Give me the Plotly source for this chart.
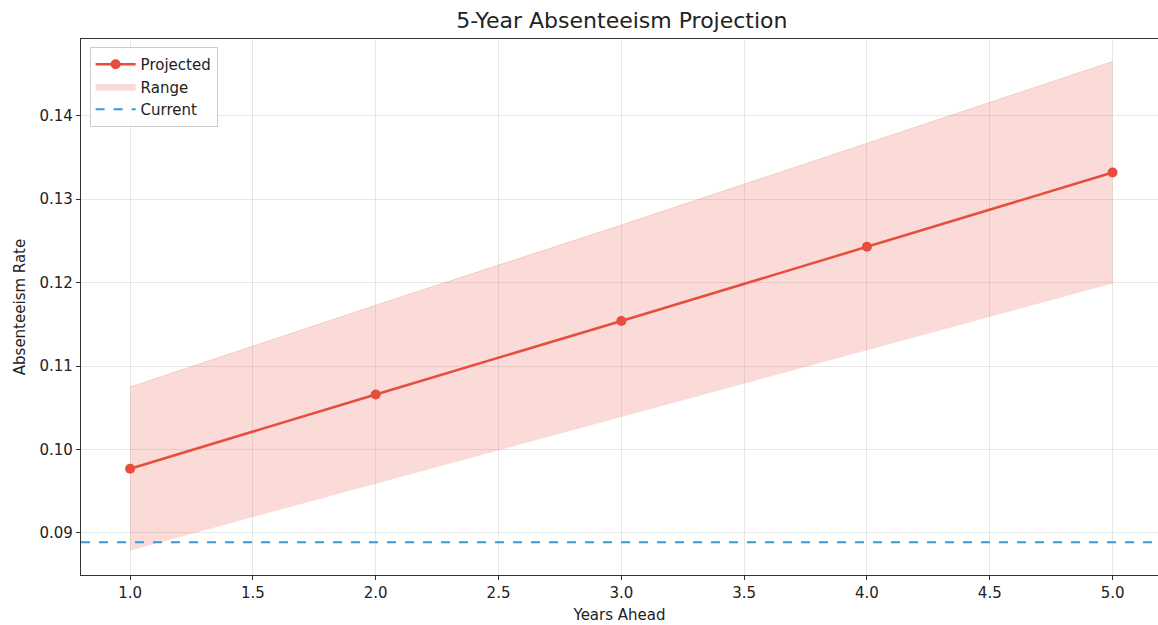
import plotly.graph_objects as go

years = [1, 2, 3, 4, 5]
projected = [0.0977, 0.1066, 0.1154, 0.1243, 0.1332]
upper = [0.1075, 0.1173, 0.1269, 0.1367, 0.1465]
lower = [0.0879, 0.0959, 0.1039, 0.1119, 0.1199]
current = 0.0889
x_ticks = [1.0, 1.5, 2.0, 2.5, 3.0, 3.5, 4.0, 4.5, 5.0]
y_ticks = [0.09, 0.10, 0.11, 0.12, 0.13, 0.14]

RED = "#e74c3c"
BLUE = "#3498db"
FONT = "DejaVu Sans"

fig = go.Figure()
fig.add_trace(go.Scatter(x=years, y=lower, mode="lines", line=dict(width=0),
                         showlegend=False, hoverinfo="skip"))
fig.add_trace(go.Scatter(x=years, y=upper, mode="lines", fill="tonexty",
                         fillcolor="rgba(231,76,60,0.2)",
                         line=dict(width=1, color="rgba(231,76,60,0.2)"),
                         name="Range", legendrank=2))
fig.add_trace(go.Scatter(x=years, y=projected, mode="lines+markers",
                         line=dict(color=RED, width=2.5),
                         marker=dict(size=10, color=RED),
                         name="Projected", legendrank=1))
fig.add_trace(go.Scatter(x=[0.8, 5.2], y=[current, current], mode="lines",
                         line=dict(color=BLUE, width=2, dash="dash"),
                         name="Current", legendrank=3))

axis_common = dict(showline=True, linecolor="#333", linewidth=1.2, mirror=True,
                   ticks="outside", ticklen=4, tickcolor="#333",
                   showgrid=True, gridcolor="rgba(0,0,0,0.09)", gridwidth=1,
                   zeroline=False, tickfont=dict(size=15, color="#222", family=FONT))

fig.update_xaxes(range=[0.8, 5.185], tickvals=x_ticks,
                 ticktext=[f"{v:.1f}" for v in x_ticks],
                 title=dict(text="Years Ahead", font=dict(size=15, color="#222", family=FONT), standoff=8),
                 **axis_common)
fig.update_yaxes(range=[0.08496, 0.1492], tickvals=y_ticks,
                 ticktext=[f"{v:.2f}" for v in y_ticks],
                 title=dict(text="Absenteeism Rate", font=dict(size=15, color="#222", family=FONT), standoff=10),
                 **axis_common)

fig.update_layout(
    width=1158, height=625,
    margin=dict(l=81, r=0, t=39, b=50),
    plot_bgcolor="white", paper_bgcolor="white",
    title=dict(text="5-Year Absenteeism Projection", x=0.537, xanchor="center",
               y=0.967, yanchor="middle",
               font=dict(size=22, color="#222", family=FONT)),
    legend=dict(x=0.008, y=0.985, xanchor="left", yanchor="top",
                bgcolor="rgba(255,255,255,0.8)", bordercolor="#ccc", borderwidth=1,
                font=dict(size=15, color="#222", family=FONT),
                traceorder="normal", itemwidth=40),
    showlegend=True,
)

fig.write_html("out.html")
